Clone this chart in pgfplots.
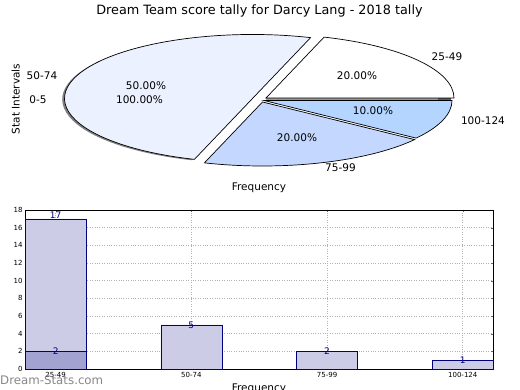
\documentclass[border=0pt]{standalone}
\usepackage{pgfplots}
\pgfplotsset{compat=1.18}
\usepackage{fontspec}
\setmainfont{DejaVu Sans}
\definecolor{slA}{HTML}{FFFFFF}
\definecolor{slB}{HTML}{EBF1FE}
\definecolor{slC}{HTML}{C4D8FF}
\definecolor{slD}{HTML}{B3D5FF}
\definecolor{barA}{HTML}{CCCCE6}
\definecolor{barB}{HTML}{A3A3D1}
\definecolor{navyc}{HTML}{000080}
% pie shares (percent)
\def\pA{20}\def\pB{50}\def\pC{20}\def\pD{10}
\newcommand{\pieslice}[5]{%
  \filldraw[fill=#5, draw=black, line width=0.7pt, line join=miter]
    (axis cs:#3,#4) -- ++({#1}:188pt and 64pt)
    arc[start angle={#1}, end angle={#2}, x radius=188pt, y radius=64pt] -- cycle;}
\newcommand{\pieshadow}[5]{%
  \fill[#5] (axis cs:#3,#4) -- ++({#1}:188pt and 64pt)
    arc[start angle={#1}, end angle={#2}, x radius=188pt, y radius=64pt] -- cycle;}
\begin{document}
\begin{tikzpicture}
\useasboundingbox (0,0) rectangle (520pt,390pt);
% ---------------- pie ----------------
\begin{axis}[at={(0pt,0pt)}, anchor=south west, scale only axis,
  width=520pt, height=390pt, xmin=0, xmax=520, ymin=0, ymax=390,
  hide axis, clip=false]
  \pieshadow{3.6*\pA}{3.6*(\pA+\pB)}{250.2}{290.6}{black!50}
  \fill[black!40] (axis cs:266,289.5) rectangle (axis cs:451,291.8);
  \fill[black!65] (axis cs:438,289.5) rectangle (axis cs:451,291.8);
  \pieslice{0}{3.6*\pA}{266}{292}{slA}
  \pieslice{3.6*\pA}{3.6*(\pA+\pB)}{252.5}{291.5}{slB}
  \pieslice{3.6*(\pA+\pB)}{3.6*(\pA+\pB+\pC)}{262.5}{288}{slC}
  \pieslice{3.6*(\pA+\pB+\pC)}{360}{264}{289.5}{slD}
  \begin{scope}[every node/.style={font=\fontsize{10.5}{12}\selectfont, inner sep=0pt}]
    \node at (axis cs:447,333) {25-49};
    \node at (axis cs:42,314) {50-74};
    \node at (axis cs:38,290.7) {0-5};
    \node at (axis cs:340.5,222) {75-99};
    \node at (axis cs:483,269) {100-124};
    \node at (axis cs:357,314.3) {20.00\%};
    \node at (axis cs:146,304) {50.00\%};
    \node at (axis cs:139.5,290.7) {100.00\%};
    \node at (axis cs:373,279) {10.00\%};
    \node at (axis cs:297,252.3) {20.00\%};
    \node[rotate=90] at (axis cs:15.7,291) {Stat Intervals};
    \node at (axis cs:259,202) {Frequency};
  \end{scope}
  \node[font=\fontsize{12.8}{14}\selectfont, inner sep=0pt] at (axis cs:259.5,379) {Dream Team score tally for Darcy Lang - 2018 tally};
\end{axis}
% ---------------- bars ----------------
\begin{axis}[at={(25pt,21pt)}, anchor=south west, scale only axis,
  width=468pt, height=159pt,
  xmin=-0.226, xmax=3.223, ymin=0, ymax=18,
  ytick={0,2,...,18}, xtick={0,1,2,3},
  xticklabels={25-49,50-74,75-99,100-124},
  grid=major, grid style={dotted, black!30, line width=0.6pt},
  tick align=inside, major tick length=2.5pt,
  tick style={black!60},
  tick label style={font=\fontsize{7}{8}\selectfont},
  yticklabel style={xshift=1pt},
  /pgf/number format/assume math mode=true,
  axis line style={black, line width=0.7pt},
  clip=false]
  \addplot[ybar, bar width=0.45, fill=barA, draw=navyc, line width=0.6pt]
    coordinates {(0,17) (1,5) (2,2) (3,1)};
  \addplot[ybar, bar width=0.45, fill=barB, draw=navyc, line width=0.6pt]
    coordinates {(0,2)};
  \addplot[draw=none, mark=none, nodes near coords, point meta=explicit symbolic,
    nodes near coords style={anchor=center, inner sep=0pt, text=navyc, font=\fontsize{9}{10}\selectfont}]
    coordinates {(0,17.4)[17] (0,2)[2] (1,5)[5] (2,2)[2] (3,1)[1]};
\end{axis}
\node[anchor=north, inner sep=0pt, font=\fontsize{10.5}{12}\selectfont] at (259pt,6.5pt) {Frequency};
\node[anchor=west, inner sep=0pt, text=black!47, font=\fontsize{11.8}{13}\selectfont] at (0pt,10pt) {Dream-Stats.com};
\end{tikzpicture}
\end{document}
